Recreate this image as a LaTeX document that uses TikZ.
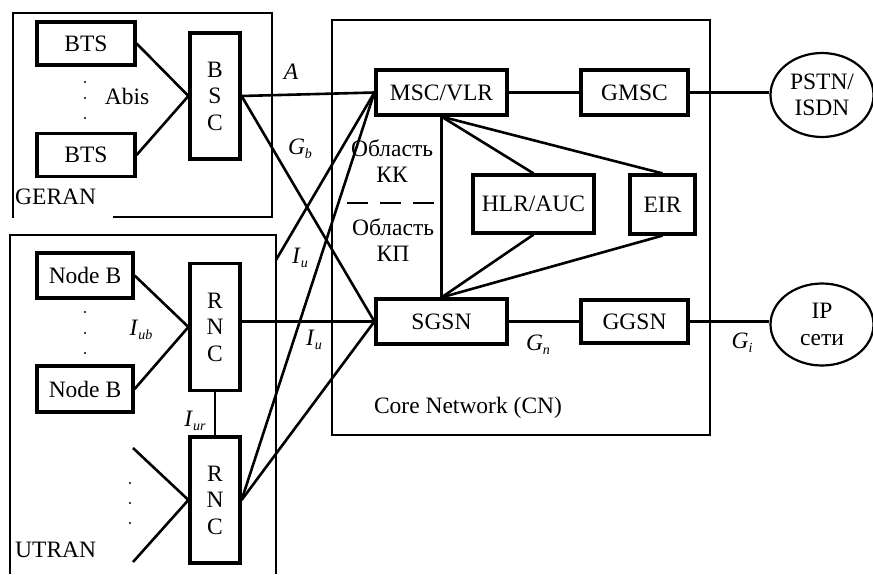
\documentclass[tikz,border=0pt]{standalone}
\usepackage{fontspec}
\setmainfont{Liberation Serif}
\usetikzlibrary{shapes.geometric}
\newcommand\fs{\fontsize{23.5}{26.5}\selectfont}
\newcommand\lbl[2]{\textit{#1}\raisebox{-0.4ex}{\fontsize{14}{14}\selectfont\textit{#2}}}
\tikzset{
  blk/.style={draw, line width=3.2pt, inner sep=0pt, align=center, font=\fs},
  ell/.style={draw, ellipse, line width=2.2pt, inner sep=0pt, align=center, font=\fs},
  frame/.style={draw, line width=1.5pt},
  conn/.style={draw, line width=2.6pt},
  dashline/.style={draw, line width=2.8pt, dash pattern=on 21pt off 12pt},
  txt/.style={font=\fs, inner sep=0pt, align=center},
  dotmark/.style={fill, circle, inner sep=0pt, minimum size=2.4pt}
}
\begin{document}
\begin{tikzpicture}[x=1pt,y=-1pt]
\useasboundingbox (0,0) rectangle (873,574);
% container frames
\draw[frame] (113,217) -- (272,217) -- (272,13) -- (13,13) -- (13,218);
\draw[frame] (10,574) -- (10,235) -- (276,235) -- (276,574);
\draw[frame] (332,20) rectangle (710,435);

% GERAN
\node[blk, minimum width=98pt, minimum height=43pt] (bts1) at (86,43.5) {BTS};
\node[blk, minimum width=98pt, minimum height=43pt] (bts2) at (86,155) {BTS};
\node[blk, minimum width=50pt, minimum height=126pt] (bsc) at (215,96) {B\\S\\C};
\node[txt, anchor=west] (geran) at (15,197) {GERAN};
\node[txt] (abis) at (127,96) {Abis};
\node[dotmark] (d1) at (85,82) {};
\node[dotmark] (d2) at (85,98) {};
\node[dotmark] (d3) at (85,118) {};

% UTRAN
\node[blk, minimum width=96pt, minimum height=45pt] (nb1) at (85,275.5) {Node B};
\node[blk, minimum width=96pt, minimum height=46pt] (nb2) at (85,389) {Node B};
\node[blk, minimum width=50pt, minimum height=127pt] (rnc1) at (215,327) {R\\N\\C};
\node[blk, minimum width=50pt, minimum height=126pt] (rnc2) at (215,500) {R\\N\\C};
\node[txt, anchor=west] (utran) at (15,550) {UTRAN};
\node[txt] (iub) at (141,330) {\lbl{I}{ub}};
\node[txt] (iur) at (195,421) {\lbl{I}{ur}};
\node[dotmark] (e1) at (85,312) {};
\node[dotmark] (e2) at (85,333) {};
\node[dotmark] (e3) at (85,353) {};
\node[dotmark] (f1) at (130,483) {};
\node[dotmark] (f2) at (130,503) {};
\node[dotmark] (f3) at (130,523) {};
\coordinate (r2a) at (133,448);
\coordinate (r2b) at (133,562);
\coordinate (iuedge) at (276,260);

% Core network
\node[blk, minimum width=131pt, minimum height=45pt] (msc) at (441.5,92.5) {MSC/VLR};
\node[blk, minimum width=107pt, minimum height=45pt] (gmsc) at (634.5,92.5) {GMSC};
\node[blk, minimum width=121pt, minimum height=58pt] (hlr) at (533.5,204) {HLR/AUC};
\node[blk, minimum width=65pt, minimum height=59pt] (eir) at (662.5,204.5) {EIR};
\node[blk, minimum width=131pt, minimum height=45pt] (sgsn) at (441.5,321.5) {SGSN};
\node[blk, minimum width=107pt, minimum height=43pt] (ggsn) at (634.5,321.5) {GGSN};
\node[ell, minimum width=103pt, minimum height=84pt] (pstn) at (822,95) {PSTN/\\ISDN};
\node[ell, minimum width=103pt, minimum height=82pt] (ip) at (822,324.5) {IP\\сети};
\node[txt] (cn) at (468,408) {Core Network (CN)};
\node[txt] (okk) at (392,161) {Область\\КК};
\node[txt] (okp) at (393,240) {Область\\КП};

% labels
\node[txt] (la) at (291,72) {\textit{A}};
\node[txt] (lgb) at (300,149) {\lbl{G}{b}};
\node[txt] (liu1) at (300,258) {\lbl{I}{u}};
\node[txt] (liu2) at (314,340) {\lbl{I}{u}};
\node[txt] (lgn) at (538,345) {\lbl{G}{n}};
\node[txt] (lgi) at (742,343) {\lbl{G}{i}};

% connectors GERAN
\draw[conn] (bts1.east) -- (bsc.west);
\draw[conn] (bts2.east) -- (bsc.west);
\draw[conn] (bsc.east) -- (msc.west);
\draw[conn] (bsc.east) -- (sgsn.west);
% UTRAN
\draw[conn] (nb1.east) -- (rnc1.west);
\draw[conn] (nb2.east) -- (rnc1.west);
\draw[conn] (rnc1.south) -- (rnc2.north);
\draw[conn] (rnc2.west) -- (r2a);
\draw[conn] (rnc2.west) -- (r2b);
\draw[conn] (rnc1.east |- sgsn.west) -- (sgsn.west);
\draw[conn] (rnc2.east) -- (msc.west);
\draw[conn] (rnc2.east) -- (sgsn.west);
\draw[conn] (iuedge) -- (msc.west);
% core
\draw[conn] (msc.east) -- (gmsc.west);
\draw[conn] (gmsc.east) -- (gmsc.east -| pstn.west);
\draw[conn] (sgsn.east) -- (sgsn.east -| ggsn.west);
\draw[conn] (ggsn.east) -- (ggsn.east -| ip.west);
\draw[conn, line width=2.8pt] (msc.south) -- (sgsn.north);
\coordinate (dl) at (347,203);
\draw[dashline] (dl) -- (dl -| msc.south);
\draw[conn] (msc.south) -- (hlr.north);
\draw[conn] (msc.south) -- (eir.north);
\draw[conn] (sgsn.north) -- (hlr.south);
\draw[conn] (sgsn.north) -- (eir.south);
\end{tikzpicture}
\end{document}
